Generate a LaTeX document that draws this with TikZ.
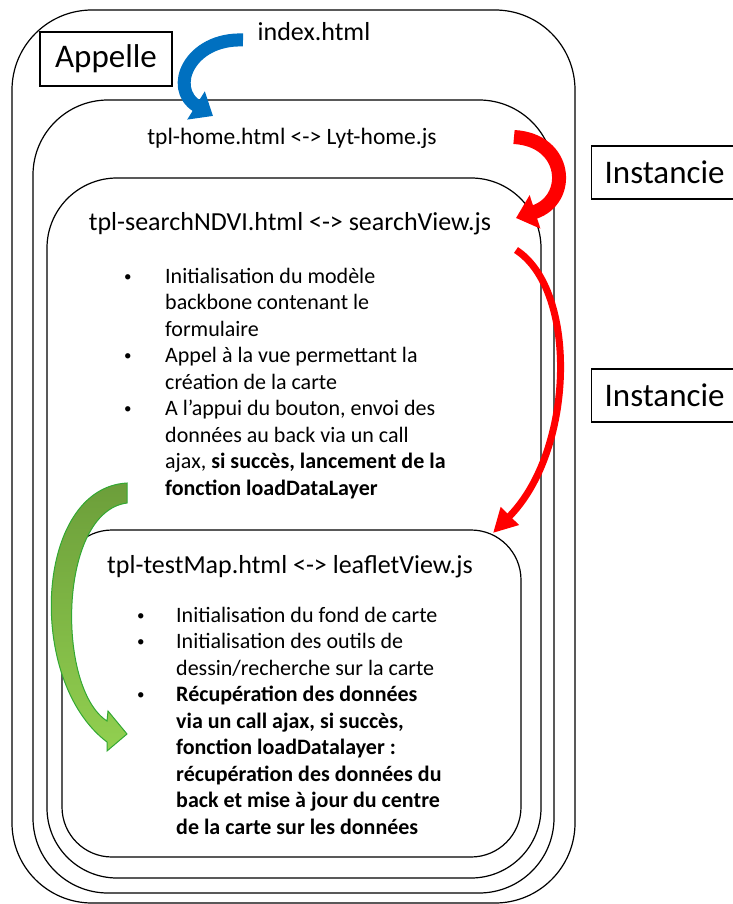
\documentclass[tikz,border=0pt]{standalone}
\usepackage{fontspec}
\setmainfont{Carlito}
\usetikzlibrary{arrows.meta}

\definecolor{appblue}{RGB}{0,112,192}
\definecolor{instred}{RGB}{255,0,0}
\definecolor{gtop}{RGB}{108,158,58}
\definecolor{gbottom}{RGB}{146,208,80}
\definecolor{gline}{RGB}{50,168,50}

\newcommand{\smallbul}{\raisebox{2pt}{\fontsize{15}{15}\selectfont\textbullet}}

\tikzset{
  boxframe/.style={draw, line width=1.2pt, rounded corners=#1, inner sep=0pt},
  tagbox/.style={draw, line width=1.2pt, font=\fontsize{33}{40}\selectfont, inner sep=0pt},
  headtext/.style={font=\fontsize{26}{31}\selectfont, inner sep=0pt, anchor=base},
  listtext/.style={font=\fontsize{22}{26.5}\selectfont, inner sep=0pt, anchor=base west},
}

\begin{document}
\begin{tikzpicture}[x=1pt,y=-1pt]
\useasboundingbox (0,0) rectangle (732,904);
% nested frames
\node[boxframe=80, minimum width=563pt, minimum height=893pt] (indexbox) at (293.5,456.5) {};
\node[boxframe=75, minimum width=521pt, minimum height=793pt] (homebox) at (293.5,496.5) {};
\node[boxframe=70, minimum width=494pt, minimum height=700pt] (searchbox) at (294,528) {};
\node[boxframe=50, minimum width=459pt, minimum height=327pt] (mapbox) at (291.5,693.5) {};
% titles
\node[headtext] (indexname) at (314,41) {index.html};
\node[headtext, font=\fontsize{23.5}{28}\selectfont] (homename) at (292,145) {tpl-home.html <-> Lyt-home.js};
\node[headtext] (searchname) at (290,230) {tpl-searchNDVI.html <-> searchView.js};
\node[headtext] (mapname) at (290,573) {tpl-testMap.html <-> leafletView.js};
% labels
\node[tagbox, minimum width=132pt, minimum height=54pt] (appelle) at (106,59) {Appelle};
\node[tagbox, anchor=west, minimum height=53pt, text width=130pt, inner xsep=13pt, align=left] (inst1) at (591,172.5) {Instancie};
\node[tagbox, anchor=west, minimum height=53pt, text width=130pt, inner xsep=13pt, align=left] (inst2) at (591,395.5) {Instancie};
% lists
\node[listtext] (searchlist) at (124,283) {\begin{tabular}[t]{@{}p{41pt}@{}l@{}}
\smallbul & Initialisation du modèle\\
 & backbone contenant le\\
 & formulaire\\
\smallbul & Appel à la vue permettant la\\
 & création de la carte\\
\smallbul & A l’appui du bouton, envoi des\\
 & données au back via un call\\
 & ajax, \textbf{si succès, lancement de la}\\
 & \textbf{fonction loadDataLayer}
\end{tabular}};
\node[listtext] (maplist) at (137,622) {\begin{tabular}[t]{@{}p{39pt}@{}l@{}}
\smallbul & Initialisation du fond de carte\\
\smallbul & Initialisation des outils de\\
 & dessin/recherche sur la carte\\
\smallbul & \textbf{Récupération des données}\\
 & \textbf{via un call ajax, si succès,}\\
 & \textbf{fonction loadDatalayer :}\\
 & \textbf{récupération des données du}\\
 & \textbf{back et mise à jour du centre}\\
 & \textbf{de la carte sur les données}
\end{tabular}};
% curved arrows
\coordinate (calltail) at (243,40);
\coordinate (callhead) at (213,116);
\coordinate (inst1tail) at (514,137);
\coordinate (inst1head) at (516,218);
\coordinate (inst2tail) at (516,250);
\coordinate (inst2head) at (493,533);
\draw[appblue, line width=13pt, -{Triangle[length=20pt,width=32pt]}]
  (calltail) .. controls (190,38) and (168,88) .. (callhead);
\draw[instred, line width=14pt, -{Triangle[length=20pt,width=34pt]}]
  (inst1tail) .. controls (568,140) and (572,200) .. (inst1head);
\draw[instred, line width=7pt, -{Triangle[length=24pt,width=24pt]}]
  (inst2tail) .. controls (578,290) and (575,450) .. (inst2head);
\draw[gline, line width=1pt, top color=gtop, bottom color=gbottom]
  (127,483) .. controls (35,488) and (25,680) .. (107,742) -- (107,751) -- (127,734)
  -- (108,711) -- (107,721) .. controls (56,688) and (58,512) .. (127,503) -- cycle;
\end{tikzpicture}
\end{document}
